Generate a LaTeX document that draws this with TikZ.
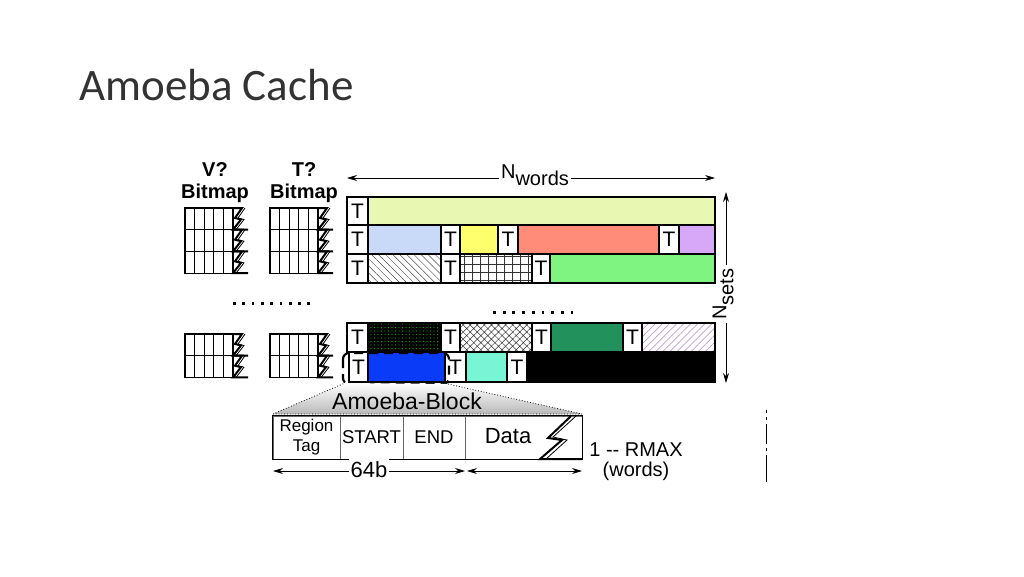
\documentclass[tikz,border=0pt]{standalone}
\usepackage{fontspec}
\setmainfont{Liberation Sans}
\newfontfamily\titlefont{Carlito}
\usetikzlibrary{patterns,patterns.meta,arrows.meta}
\newcommand\fsz[1]{\fontsize{#1}{#1}\selectfont}
\definecolor{clime}{HTML}{E8F8B2}
\definecolor{cltblue}{HTML}{C8DAF8}
\definecolor{cyell}{HTML}{FFFF6E}
\definecolor{csalmon}{HTML}{FF8C78}
\definecolor{clav}{HTML}{D8A8F8}
\definecolor{cgreen}{HTML}{80F480}
\definecolor{cdkgreen}{HTML}{23915B}
\definecolor{cblue}{HTML}{0A3CF8}
\definecolor{caqua}{HTML}{78F5D5}
\tikzset{
  tcell/.style={draw,line width=1.2pt,fill=white,inner sep=0pt,font=\fsz{21}},
  blkcell/.style={draw=black!60,thick,inner sep=0pt,align=center},
  dimline/.style={<->,thick},
}
% T cell: name, x1, y1, x2, y2
\newcommand\tcell[5]{\node[tcell,minimum width={#4-#2},minimum height={#5-#3}] (#1) at ({(#2+#4)/2},{(#3+#5)/2}) {T};}
% bitmap: left x, top y, rows
\newcommand\bitmap[3]{%
  \foreach \r in {1,...,#3}{
    \pgfmathsetmacro\ya{#2+(\r-1)*21.7}
    \draw[line width=1.1pt] (#1,\ya) rectangle ++(48,21.7);
    \foreach \c in {1,...,4} \draw ({#1+\c*9.6},\ya) -- ++(0,21.7);
    \draw[line width=2pt] ({#1+48},\ya) -- ++(9,0) -- ++(-7,10) -- ++(6,1.5) -- ++(-8,10.2) -- ++(15,0);
    \draw[line width=0.8pt] ({#1+60},\ya) -- ++(-7,10) -- ++(6,1.5) -- ++(-8,10.2);
  }}
\begin{document}
\begin{tikzpicture}[x=1pt,y=-1pt,>={Stealth[length=10pt,width=6pt]},thick,font=\fsz{20}]
\useasboundingbox (0,0) rectangle (1024,576);
\node[anchor=base west,font=\titlefont\fsz{45},text=black!80,inner sep=0pt] (title) at (79,100) {Amoeba Cache};
% bitmaps
\node[font=\bfseries\fsz{20}] (vq) at (215,170) {V?};
\node[font=\bfseries\fsz{20}] (vbm) at (215,193) {Bitmap};
\node[font=\bfseries\fsz{20}] (tq) at (304,170) {T?};
\node[font=\bfseries\fsz{20}] (tbm) at (304,193) {Bitmap};
\bitmap{185}{208}{3}
\bitmap{270}{208}{3}
\bitmap{185}{334}{2}
\bitmap{270}{334}{2}
\foreach \i in {0,...,8} \fill ({233+\i*9.3},302) rectangle ++(2.8,2.8);
\foreach \i in {0,...,8} \fill ({493+\i*9.7},311) rectangle ++(2.8,2.8);
\begin{scope}[line width=1.2pt]
% row 1
\draw[fill=clime] (368,197) rectangle (715,225);
\tcell{t11}{347}{197}{368}{225}
% row 2
\foreach \xa/\xb/\cc in {368/441/cltblue,460/498/cyell,518/659/csalmon,679/715/clav}
  \draw[fill=\cc] (\xa,225) rectangle (\xb,254);
\tcell{t21}{347}{225}{368}{254}
\tcell{t22}{441}{225}{460}{254}
\tcell{t23}{498}{225}{518}{254}
\tcell{t24}{659}{225}{679}{254}
% row 3
\draw[pattern={Lines[angle=-45,distance=5pt,line width=0.5pt]},pattern color=black!70] (368,254) rectangle (441,283);
\draw[pattern={Hatch[angle=0,distance=8pt,line width=0.5pt]},pattern color=black!80] (460,254) rectangle (532,283);
\draw[fill=cgreen] (550,254) rectangle (715,283);
\tcell{t31}{347}{254}{368}{283}
\tcell{t32}{441}{254}{460}{283}
\tcell{t33}{532}{254}{550}{283}
% row 4
\draw[preaction={fill=black},pattern={Dots[distance=3.5pt,radius=0.7pt]},pattern color=green!65!black] (368,323) rectangle (441,352);
\draw[pattern={Hatch[angle=45,distance=5pt,line width=0.5pt]},pattern color=black!80] (460,323) rectangle (532,352);
\draw[fill=cdkgreen] (551,323) rectangle (623,352);
\draw[pattern={Lines[angle=45,distance=5pt,line width=0.7pt]},pattern color=clav!70!gray] (642,323) rectangle (715,352);
\tcell{t41}{347}{323}{368}{352}
\tcell{t42}{441}{323}{460}{352}
\tcell{t43}{532}{323}{551}{352}
\tcell{t44}{623}{323}{642}{352}
% row 5
\draw[fill=cblue] (368,352) rectangle (445,382);
\draw[fill=caqua] (466,352) rectangle (507,382);
\draw[fill=black] (527,352) rectangle (715,382);
\tcell{t51}{349}{352}{368}{382}
\tcell{t52}{445}{352}{466}{382}
\tcell{t53}{507}{352}{527}{382}
\end{scope}
\draw[dashed,line width=2.2pt,rounded corners=6,dash pattern=on 9pt off 6pt] (343,353) rectangle (449,384);
% N words / N sets
\coordinate (nwl) at (347,178);
\coordinate (nwr) at (715,178);
\node[inner sep=2pt] (nw) at (535,175) {N\raisebox{-7pt}{words}};
\draw[->] (nwl -| nw.west) -- (nwl);
\draw[->] (nwr -| nw.east) -- (nwr);
\coordinate (nst) at (726,192);
\coordinate (nsb) at (726,383);
\node[rotate=90,inner sep=3pt] (ns) at (723,294) {N\raisebox{-7pt}{sets}};
\draw[->] (ns.east -| nst) -- (nst);
\draw[->] (ns.west -| nsb) -- (nsb);
% amoeba block
\shade[top color=white,bottom color=gray!55] (345,383) -- (448,384) -- (582,414) -- (273,414) -- cycle;
\draw[dotted,thick] (273,414) -- (345,383) (448,384) -- (582,414) (273,414) -- (582,414);
\node[font=\fsz{23}] (ablk) at (407,401) {Amoeba-Block};
\node[blkcell,minimum width=67,minimum height=43,font=\fsz{17}] (rtag) at (306.5,437.5) {Region\\[3pt]Tag};
\node[blkcell,minimum width=63,minimum height=43,font=\fsz{18.5}] (start) at (371.5,437.5) {START};
\node[blkcell,minimum width=62,minimum height=43,font=\fsz{18.5}] (endc) at (434,437.5) {END};
\node[blkcell,minimum width=117,minimum height=43] (data) at (523.5,437.5) {};
\node[font=\fsz{22}] (datat) at (508,436) {Data};
\draw[line width=1.3pt] (rtag.north west) rectangle (data.south east);
\draw[line width=2pt] (571,416) -- (548,438) -- (562,440) -- (540,459) -- (582,459);
\draw[line width=0.8pt] (576,416) -- (553,437) -- (567,440) -- (546,459);
\coordinate (bl) at (273,471);
\coordinate (bm) at (465,471);
\coordinate (bm2) at (467,471);
\coordinate (br) at (582,471);
\draw[dimline] (bl) -- (bm);
\draw[dimline] (bm2) -- (br);
\node[fill=white,font=\fsz{22},inner xsep=2pt,minimum height=24] (sixfour) at (369,470) {64b};
\node[font=\fsz{20}] (rmax) at (636,450) {1 -{}- RMAX};
\node[font=\fsz{20}] (rwords) at (636,471) {(words)};
\draw[thick,dash pattern=on 3pt off 4pt on 3pt off 4pt on 20pt off 4pt on 3pt off 4pt on 27pt] (766,410) -- (766,482);
\end{tikzpicture}
\end{document}
